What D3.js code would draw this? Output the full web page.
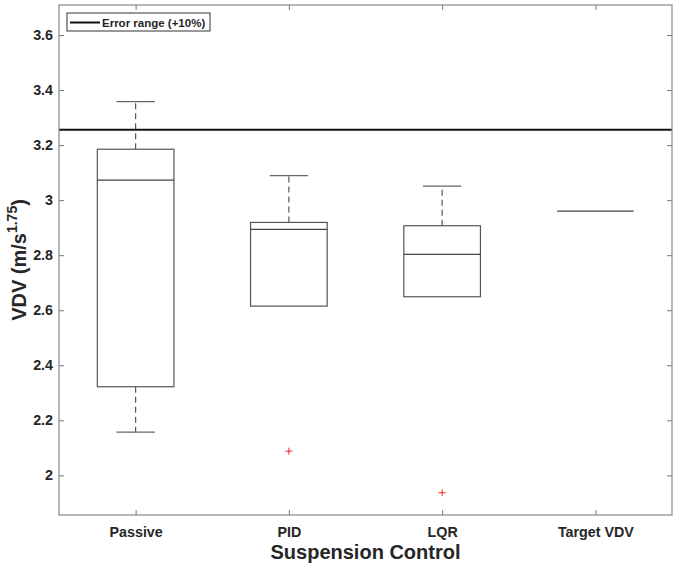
<!DOCTYPE html>
<html>
<head>
<meta charset="utf-8">
<script src="https://cdn.jsdelivr.net/npm/d3@7"></script>
<style>
  body { margin: 0; background: #fff; }
  text { font-family: "Liberation Sans", Arial, sans-serif; font-weight: bold; fill: #262626; }
</style>
</head>
<body>
<div id="chart"></div>
<script>
// data
var categories = ["Passive", "PID", "LQR", "Target VDV"]
var whiskerLow  = [2.157, 2.615, 2.649, 2.96]
var q1          = [2.322, 2.615, 2.649, 2.96]
var medians     = [3.073, 2.894, 2.803, 2.96]
var q3          = [3.185, 2.919, 2.907, 2.96]
var whiskerHigh = [3.358, 3.089, 3.051, 2.96]
var outliers = [{cat: "PID", v: 2.088}, {cat: "LQR", v: 1.937}]
var errorRange = 3.256   // target + 10%
var yTicks = [2, 2.2, 2.4, 2.6, 2.8, 3, 3.2, 3.4, 3.6]

var W = 684, H = 574
var margin = {top: 5, right: 12, bottom: 59, left: 59}

var svg = d3.select("#chart").append("svg")
            .attr("width", W)
            .attr("height", H)

var pw = W - margin.left - margin.right
var ph = H - margin.top - margin.bottom
var g = svg.append("g").attr("transform", `translate(${margin.left},${margin.top})`)

// positions 1..4 on a [0.5,4.5] axis like matlab
var x = d3.scaleLinear().domain([0.5, 4.5]).range([0, pw])
var y = d3.scaleLinear().domain([1.856, 3.709]).range([ph, 0])
var pos = d3.scaleOrdinal().domain(categories).range([1, 2, 3, 4])

var boxes = categories.map(function(c, i){
  return {cat: c, lo: whiskerLow[i], q1: q1[i], med: medians[i], q3: q3[i], hi: whiskerHigh[i]}
})

// whiskers (dashed)
g.selectAll(".whiskUp").data(boxes.filter(d => d.hi > d.q3)).enter()
  .append("line")
  .attr("x1", d => x(pos(d.cat))).attr("x2", d => x(pos(d.cat)))
  .attr("y1", d => y(d.q3)).attr("y2", d => y(d.hi))
  .style("stroke", "#555").style("stroke-width", 1.2).style("stroke-dasharray", "6,4")
g.selectAll(".whiskDn").data(boxes.filter(d => d.lo < d.q1)).enter()
  .append("line")
  .attr("x1", d => x(pos(d.cat))).attr("x2", d => x(pos(d.cat)))
  .attr("y1", d => y(d.q1)).attr("y2", d => y(d.lo))
  .style("stroke", "#555").style("stroke-width", 1.2).style("stroke-dasharray", "6,4")

// caps
var capW = x(0.125) - x(0)
g.selectAll(".capHi").data(boxes.filter(d => d.hi > d.q3)).enter()
  .append("line")
  .attr("x1", d => x(pos(d.cat)) - capW).attr("x2", d => x(pos(d.cat)) + capW)
  .attr("y1", d => y(d.hi)).attr("y2", d => y(d.hi))
  .style("stroke", "#666").style("stroke-width", 1.2)
g.selectAll(".capLo").data(boxes.filter(d => d.lo < d.q1)).enter()
  .append("line")
  .attr("x1", d => x(pos(d.cat)) - capW).attr("x2", d => x(pos(d.cat)) + capW)
  .attr("y1", d => y(d.lo)).attr("y2", d => y(d.lo))
  .style("stroke", "#666").style("stroke-width", 1.2)

// boxes
var boxW = x(0.25) - x(0)
g.selectAll(".box").data(boxes).enter()
  .append("rect")
  .attr("x", d => x(pos(d.cat)) - boxW)
  .attr("width", 2 * boxW)
  .attr("y", d => y(d.q3))
  .attr("height", d => y(d.q1) - y(d.q3))
  .style("fill", "none").style("stroke", "#555").style("stroke-width", 1.2)

// medians
g.selectAll(".median").data(boxes).enter()
  .append("line")
  .attr("x1", d => x(pos(d.cat)) - boxW).attr("x2", d => x(pos(d.cat)) + boxW)
  .attr("y1", d => y(d.med)).attr("y2", d => y(d.med))
  .style("stroke", "#444").style("stroke-width", 1.2)

// outliers (red +)
g.selectAll(".out").data(outliers).enter()
  .append("path")
  .attr("transform", d => `translate(${x(pos(d.cat))},${y(d.v)})`)
  .attr("d", "M-3.5,0H3.5M0,-3.5V3.5")
  .style("stroke", "#ff2020").style("stroke-width", 1)

// error range line
g.append("line")
  .attr("x1", 0).attr("x2", pw)
  .attr("y1", y(errorRange)).attr("y2", y(errorRange))
  .style("stroke", "#111").style("stroke-width", 2)

// axes
var yAxis = d3.axisLeft(y).tickValues(yTicks).tickSizeInner(-5).tickSizeOuter(0).tickPadding(6)
  .tickFormat(d3.format("~g"))
var xAxis = d3.axisBottom(x).tickValues([1, 2, 3, 4]).tickSizeInner(-5).tickSizeOuter(0).tickPadding(11.5)
  .tickFormat((d, i) => categories[i])

var ya = g.append("g").call(yAxis)
ya.selectAll("text").style("font-size", "14.3px")
var xa = g.append("g").attr("transform", `translate(0,${ph})`).call(xAxis)
xa.selectAll("text").style("font-size", "14.3px")

// top and right ticks
g.append("g").call(d3.axisRight(y).tickValues(yTicks).tickSizeInner(-5).tickSizeOuter(0).tickFormat(""))
  .attr("transform", `translate(${pw},0)`)
g.append("g").call(d3.axisTop(x).tickValues([1, 2, 3, 4]).tickSizeInner(-5).tickSizeOuter(0).tickFormat(""))

g.selectAll(".domain").remove()
g.selectAll(".tick line").style("stroke", "#777")

g.append("rect")
  .attr("width", pw).attr("height", ph)
  .style("fill", "none").style("stroke", "#888").style("stroke-width", 1.2)

// axis titles
svg.append("text").text("Suspension Control")
  .attr("x", margin.left + pw / 2).attr("y", 559)
  .attr("text-anchor", "middle").style("font-size", "20px")

var yl = svg.append("text")
  .attr("transform", `translate(26,${margin.top + ph / 2}) rotate(-90)`)
  .attr("text-anchor", "middle").style("font-size", "20px")
yl.append("tspan").text("VDV (m/s")
yl.append("tspan").text("1.75").attr("dy", -9).style("font-size", "14px")
yl.append("tspan").text(")").attr("dy", 9)

// legend
var lg = svg.append("g").attr("transform", "translate(67,13)")
lg.append("rect").attr("width", 143).attr("height", 18)
  .style("fill", "#fff").style("stroke", "#333").style("stroke-width", 1)
lg.append("line").attr("x1", 3).attr("x2", 33).attr("y1", 9.5).attr("y2", 9.5)
  .style("stroke", "#111").style("stroke-width", 2)
lg.append("text").text("Error range (+10%)")
  .attr("x", 35).attr("y", 13.5).style("font-size", "11.5px")
</script>
</body>
</html>
